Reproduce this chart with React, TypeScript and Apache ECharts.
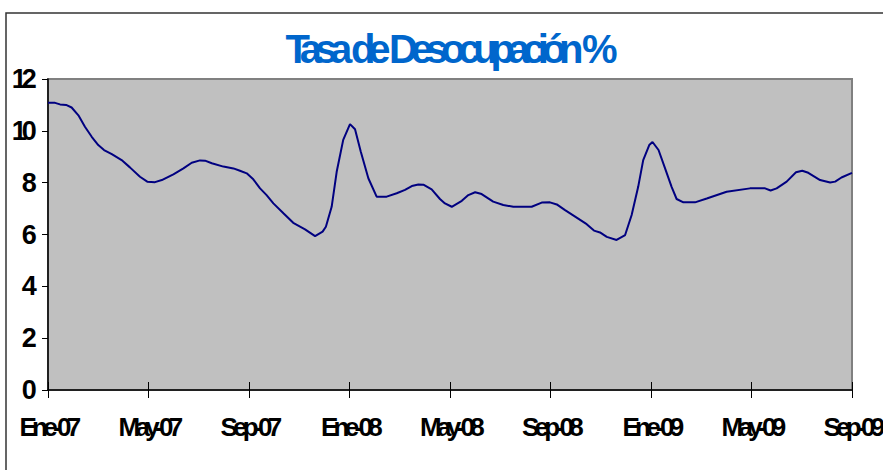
import React, { useEffect, useRef } from "react";
import * as echarts from "echarts";

const titleText = "Tasa de Desocupación %";
const tickLabels = ["Ene-07", "May-07", "Sep-07", "Ene-08", "May-08", "Sep-08", "Ene-09", "May-09", "Sep-09"];
// months elapsed since Ene-07
const months = [
  0, 0.28, 0.48, 0.72, 0.94, 1.21, 1.47, 1.74, 2.0, 2.23, 2.54, 2.93, 3.26, 3.66, 3.95, 4.26, 4.53, 4.99,
  5.39, 5.72, 6.05, 6.25, 6.52, 6.98, 7.38, 7.64, 7.91, 8.17, 8.44, 8.7, 8.97, 9.37, 9.76, 10.23, 10.63,
  10.93, 11.06, 11.29, 11.49, 11.75, 12.02, 12.22, 12.45, 12.75, 13.08, 13.48, 13.88, 14.21, 14.48, 14.74,
  14.94, 15.27, 15.6, 15.8, 16.07, 16.47, 16.73, 17.0, 17.26, 17.72, 18.12, 18.52, 19.25, 19.65, 19.98,
  20.25, 20.58, 20.98, 21.44, 21.73, 21.97, 22.24, 22.63, 22.97, 23.23, 23.49, 23.69, 23.93, 24.06, 24.3,
  24.56, 24.82, 25.02, 25.29, 25.75, 26.22, 27.01, 27.94, 28.54, 28.76, 29.0, 29.4, 29.77, 30.02, 30.26,
  30.73, 31.13, 31.33, 31.58, 32.0,
];
const rates = [
  11.08, 11.08, 11.02, 11.0, 10.9, 10.6, 10.16, 9.77, 9.45, 9.26, 9.1, 8.87, 8.59, 8.23, 8.04, 8.02, 8.1, 8.32,
  8.55, 8.77, 8.86, 8.85, 8.75, 8.62, 8.55, 8.46, 8.36, 8.13, 7.78, 7.52, 7.2, 6.82, 6.45, 6.2, 5.94,
  6.11, 6.3, 7.07, 8.42, 9.65, 10.26, 10.06, 9.19, 8.17, 7.46, 7.46, 7.59, 7.72, 7.87, 7.93,
  7.92, 7.74, 7.37, 7.2, 7.07, 7.3, 7.52, 7.63, 7.56, 7.27, 7.14, 7.07, 7.07, 7.23, 7.24,
  7.16, 6.94, 6.69, 6.4, 6.15, 6.08, 5.91, 5.79, 5.98, 6.75, 7.84, 8.87, 9.45, 9.57, 9.26,
  8.55, 7.84, 7.37, 7.24, 7.24, 7.39, 7.65, 7.78, 7.78, 7.7, 7.78, 8.04, 8.4, 8.46, 8.38,
  8.1, 8.01, 8.04, 8.2, 8.38,
];

const FONT = "'Liberation Sans', Arial, sans-serif";

export default function App() {
  const ref = useRef<HTMLDivElement>(null);
  useEffect(() => {
    if (!ref.current) return;
    const chart = echarts.init(ref.current, undefined, { renderer: "svg" });
    chart.setOption({
      animation: false,
      backgroundColor: "#ffffff",
      graphic: [
        {
          type: "rect",
          shape: { x: 6, y: 13, width: 900, height: 500 },
          style: { fill: "none", stroke: "#333333", lineWidth: 1.5 },
          silent: true,
        },
        {
          type: "text",
          x: 448,
          y: 49,
          style: {
            text: titleText,
            font: "bold 40px " + FONT,
            fill: "#0066CC",
            textAlign: "center",
            textVerticalAlign: "middle",
          },
        },
      ],
      grid: {
        left: 48,
        right: 31,
        top: 79,
        bottom: 80,
        outerBoundsMode: "none",
        containLabel: false,
        show: true,
        backgroundColor: "#c0c0c0",
        borderColor: "#808080",
        borderWidth: 2,
      },
      xAxis: [
        {
          type: "value",
          min: 0,
          max: 32,
          interval: 4,
          axisLine: { lineStyle: { color: "#000000", width: 1.5 } },
          axisTick: { show: true, length: 8, lineStyle: { color: "#000000" } },
          splitLine: { show: false },
          axisLabel: {
            formatter: (v: number) => tickLabels[Math.round(v / 4)] ?? "",
            color: "#000000",
            fontWeight: "bold",
            fontSize: 26,
            fontFamily: FONT,
            margin: 24,
          },
        },
        {
          type: "value",
          position: "bottom",
          min: 0,
          max: 32,
          interval: 4,
          axisLine: { show: false },
          axisTick: { show: true, inside: true, length: 8, lineStyle: { color: "#000000" } },
          axisLabel: { show: false },
          splitLine: { show: false },
        },
      ],
      yAxis: {
        type: "value",
        min: 0,
        max: 12,
        interval: 2,
        axisLine: { show: true, lineStyle: { color: "#000000", width: 1.5 } },
        axisTick: { show: true, length: 6, lineStyle: { color: "#000000" } },
        splitLine: { show: false },
        axisLabel: {
          color: "#000000",
          fontWeight: "bold",
          fontSize: 27,
          fontFamily: FONT,
          margin: 16,
        },
      },
      series: [
        {
          type: "line",
          data: months.map((m, i) => [m, rates[i]]),
          showSymbol: false,
          lineStyle: { color: "#000080", width: 2 },
          itemStyle: { color: "#000080" },
        },
      ],
    });
    return () => chart.dispose();
  }, []);
  return (
    <>
      <style>{".squeezed svg text { letter-spacing: -0.18em; word-spacing: 0.05em; }"}</style>
      <div
        ref={ref}
        className="squeezed"
        style={{ width: 883, height: 470, position: "absolute", left: 0, top: 0 }}
      />
    </>
  );
}
